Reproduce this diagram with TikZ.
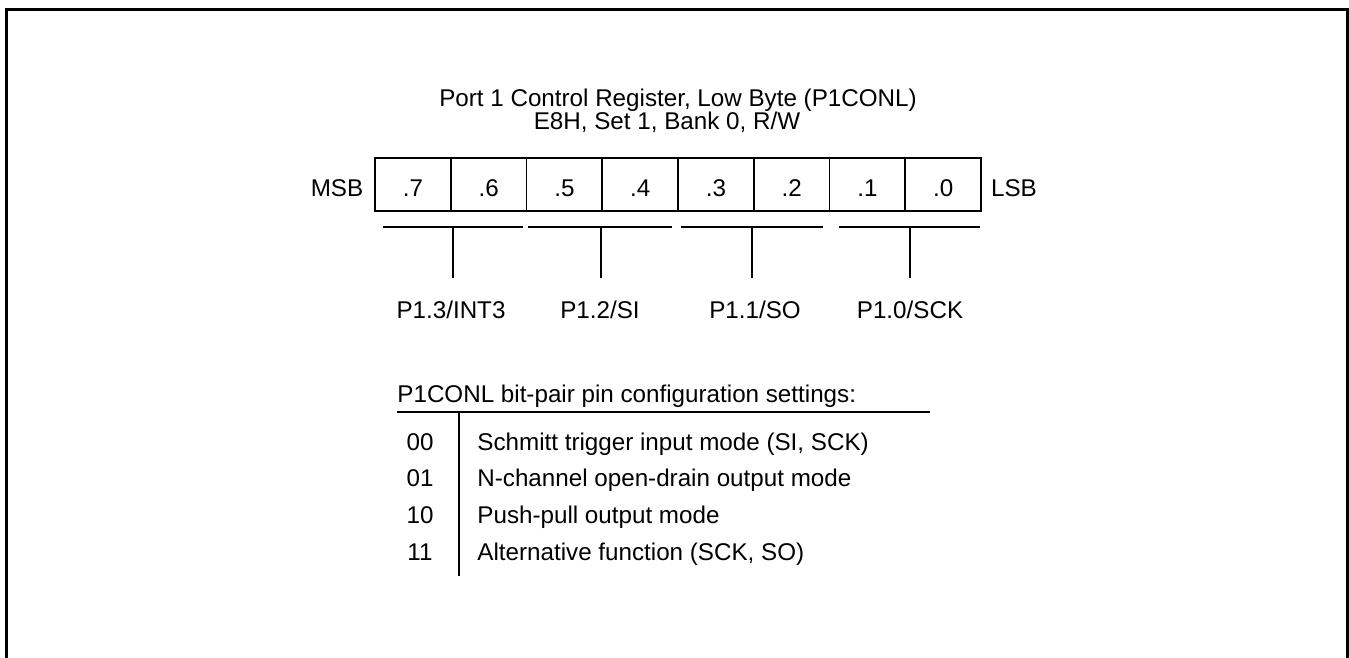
\documentclass[tikz,border=0pt]{standalone}
\usepackage{fontspec}
\setmainfont{Liberation Sans}
\usetikzlibrary{positioning}

\begin{document}
\begin{tikzpicture}[x=0.5pt,y=-0.5pt,font=\fontsize{12.1}{14}\selectfont,
  frame/.style={line width=1.5pt},
  rule/.style={line width=.8pt},
  cell/.style={draw,line width=.8pt,minimum width=37.875pt,
    minimum height=26.5pt,inner sep=0pt},
  txt/.style={inner sep=0pt,anchor=base}]
\useasboundingbox (0,0) rectangle (1349,658);
\draw[frame] (6,670)--(6,9.5)--(1347.5,9.5)--(1347.5,670);
% title
\node[txt] (title) at (678,106) {Port 1 Control Register, Low Byte (P1CONL)};
\node[txt] (addr) at (667,130) {E8H, Set 1, Bank 0, R/W};
% register cells
\foreach \b [count=\i from 0] in {7,6,5,4,3,2,1,0}{
  \node[cell] (c\b) at (375+75.75*\i+37.875,184.5) {};
  \node[txt] (t\b) at (375+75.75*\i+37.875,196) {.\b};
}
\node[txt] (msb) at (337,196) {MSB};
\node[txt] (lsb) at (1014,196) {LSB};
% bit-pair brackets
\foreach \k/\c/\l/\r in {3/453/383/523,2/601/528/672,1/752/681/823,0/910/839/980}{
  \coordinate (bl\k) at (\l,227);
  \coordinate (br\k) at (\r,227);
  \coordinate (bt\k) at (\c,227);
  \coordinate (bb\k) at (\c,278);
  \draw[rule] (bl\k)--(br\k);
  \draw[rule] (bt\k)--(bb\k);
}
\node[txt] (pin3) at (451,318) {P1.3/INT3};
\node[txt] (pin2) at (600,318) {P1.2/SI};
\node[txt] (pin1) at (755,318) {P1.1/SO};
\node[txt] (pin0) at (910,318) {P1.0/SCK};
% settings table
\node[txt,anchor=base west] (head) at (397,402)
  {P1CONL bit-pair pin configuration settings:};
\coordinate (hl) at (397,412);
\coordinate (hr) at (930,412);
\coordinate (vt) at (459,412);
\coordinate (vb) at (459,576);
\draw[rule] (hl)--(hr);
\draw[rule] (vt)--(vb);
\foreach \code/\desc [count=\i from 0] in
  {00/{Schmitt trigger input mode (SI, SCK)},
   01/{N-channel open-drain output mode},
   10/{Push-pull output mode},
   11/{Alternative function (SCK, SO)}}{
  \node[txt] (code\i) at (420,450+36.7*\i) {\code};
  \node[txt,anchor=base west] (desc\i) at (477,450+36.7*\i) {\desc};
}
\end{tikzpicture}
\end{document}
